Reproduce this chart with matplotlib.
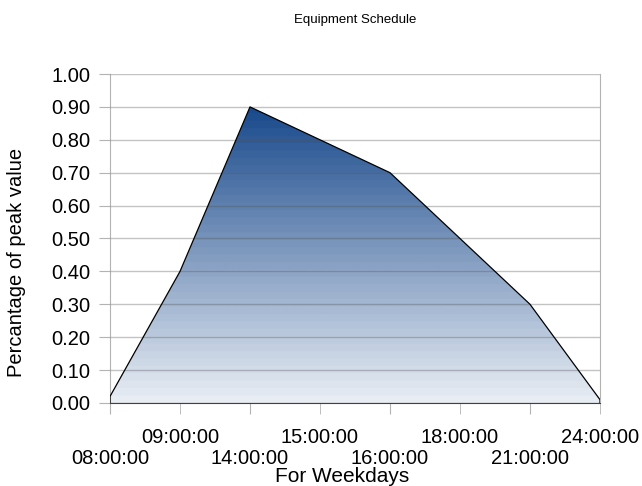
import numpy as np
import matplotlib
matplotlib.use("Agg")
import matplotlib.pyplot as plt
from matplotlib.colors import LinearSegmentedColormap
from matplotlib.patches import Polygon

plt.rcParams['font.family'] = ['Liberation Sans', 'DejaVu Sans']

hours = ['08:00:00', '09:00:00', '14:00:00', '15:00:00',
         '16:00:00', '18:00:00', '21:00:00', '24:00:00']
values = [0.02, 0.40, 0.90, 0.80, 0.70, 0.50, 0.30, 0.01]
yticks = [0.0, 0.1, 0.2, 0.3, 0.4, 0.5, 0.6, 0.7, 0.8, 0.9, 1.0]

fig = plt.figure(figsize=(6.42, 4.86), dpi=100)
ax = fig.add_axes([110 / 642, 1 - 403 / 486, 490 / 642, 329 / 486])

x = np.arange(len(hours))
ax.set_xlim(x[0], x[-1])
ax.set_ylim(0, 1.0)

# gradient fill clipped to the area polygon
cmap = LinearSegmentedColormap.from_list('blues', ['#e8edf4', '#1a4a8c'], N=40)
grad = np.linspace(0, 1, 200).reshape(-1, 1)
img = ax.imshow(grad, cmap=cmap, origin='lower', aspect='auto',
                extent=[x[0], x[-1], 0, max(values)], zorder=1)
poly = Polygon(np.column_stack([np.r_[x[0], x, x[-1]], np.r_[0, values, 0]]),
               closed=True, facecolor='none', edgecolor='none')
ax.add_patch(poly)
img.set_clip_path(poly)
ax.plot(np.r_[x[0], x, x[-1]], np.r_[0, values, 0], color='black', lw=0.9, zorder=3)

ax.set_yticks(yticks)
ax.set_yticklabels(['%.2f' % v for v in yticks])
ax.yaxis.grid(True, color='#555555', alpha=0.35, lw=1.0, zorder=2)
ax.set_axisbelow(False)

# staggered labels: even ones on the lower row (major), odd ones upper (minor)
ax.set_xticks(x[0::2])
ax.set_xticklabels(hours[0::2])
ax.set_xticks(x[1::2], minor=True)
ax.set_xticklabels(hours[1::2], minor=True)

ax.tick_params(axis='y', length=8, color='#b3b3b3', pad=6, labelsize=14.5)
ax.tick_params(axis='x', which='major', length=8, color='#b3b3b3', pad=25, labelsize=14.5)
ax.tick_params(axis='x', which='minor', length=8, color='#b3b3b3', pad=10, labelsize=14.5)

for s in ['left', 'right']:
    ax.spines[s].set_color('#b3b3b3')
ax.spines['top'].set_visible(False)
ax.spines['bottom'].set_color('#404040')
ax.spines['bottom'].set_zorder(4)

fig.text(355 / 642, 1 - 20 / 486, 'Equipment Schedule', ha='center', va='center', fontsize=9.5)
fig.text(342 / 642, 1 - 476 / 486, 'For Weekdays', ha='center', va='center', fontsize=15)
fig.text(17 / 642, 1 - 262 / 486, 'Percantage of peak value', ha='center', va='center',
         rotation=90, fontsize=14.5)

fig.savefig('out.png', dpi=100)
